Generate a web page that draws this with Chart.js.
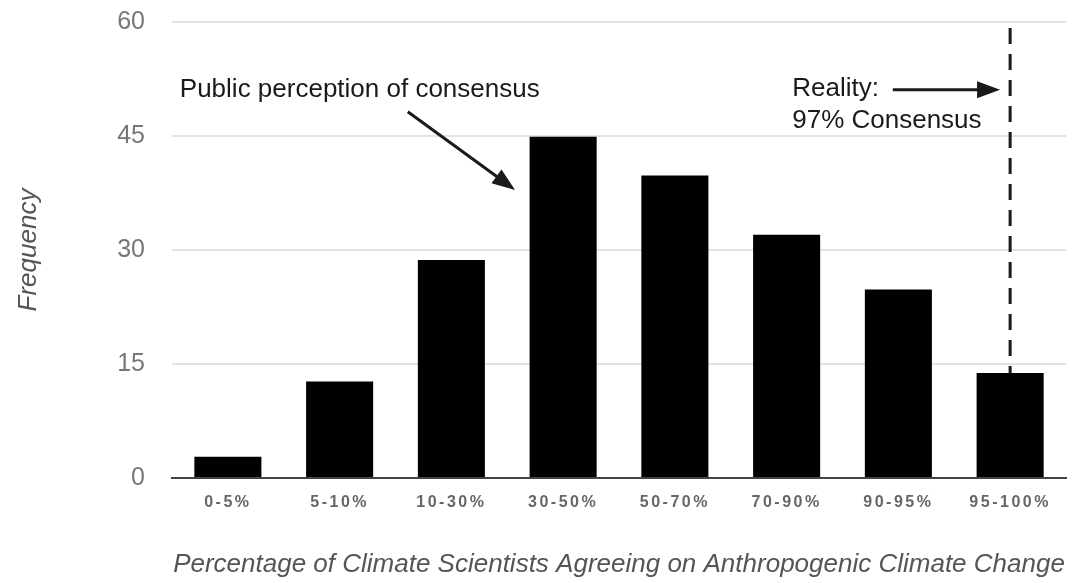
<!DOCTYPE html>
<html>
<head>
<meta charset="utf-8">
<script src="https://cdn.jsdelivr.net/npm/chart.js@4/dist/chart.umd.min.js"></script>
<style>
  html, body { margin: 0; padding: 0; background: #ffffff; }
  #wrap { width: 1072px; height: 583px; }
</style>
</head>
<body>
<div id="wrap"><canvas id="c" width="1072" height="583"></canvas></div>
<script>
// ---- Data ----
const categories = ['0-5%', '5-10%', '10-30%', '30-50%', '50-70%', '70-90%', '90-95%', '95-100%'];
const frequency = [2.8, 12.7, 28.7, 44.9, 39.8, 32, 24.8, 13.8];
const yTicks = [0, 15, 30, 45, 60];
const xTitle = 'Percentage of Climate Scientists Agreeing on Anthropogenic Climate Change';
const yTitle = 'Frequency';

// Annotations in data units (x = category index, y = frequency value)
const perceptionLabel = { text: 'Public perception of consensus', x: -0.43, y: 51.1 };
const perceptionArrow = { from: [1.61, 48.2], to: [2.57, 37.9] };
const realityLabel = { lines: ['Reality:', '97% Consensus'], x: 5.05, y: [51.2, 47.0] };
const realityArrow = { from: [5.95, 51.07], to: [6.91, 51.07] };
const realityLine = { x: 7, top: 59.2 };

const FONT = '"Liberation Sans", Arial, Helvetica, sans-serif';

function arrow(ctx, x1, y1, x2, y2) {
  const ang = Math.atan2(y2 - y1, x2 - x1);
  const headLen = 23, headW = 8.5;
  const bx = x2 - headLen * Math.cos(ang), by = y2 - headLen * Math.sin(ang);
  ctx.beginPath();
  ctx.moveTo(x1, y1);
  ctx.lineTo(bx + 2 * Math.cos(ang), by + 2 * Math.sin(ang));
  ctx.stroke();
  ctx.beginPath();
  ctx.moveTo(x2, y2);
  ctx.lineTo(bx + headW * Math.sin(ang), by - headW * Math.cos(ang));
  ctx.lineTo(bx - headW * Math.sin(ang), by + headW * Math.cos(ang));
  ctx.closePath();
  ctx.fill();
}

const annotationPlugin = {
  id: 'annotations',
  afterDatasetsDraw(chart) {
    // x tick labels (drawn in a later layer) are letter-spaced
    chart.ctx.letterSpacing = '2.5px';
  },
  afterDraw(chart) {
    const ctx = chart.ctx;
    ctx.letterSpacing = '0px';
    const xs = chart.scales.x, ys = chart.scales.y;
    ctx.save();
    ctx.fillStyle = '#1a1a1a';
    ctx.strokeStyle = '#1a1a1a';
    ctx.font = '26px ' + FONT;
    ctx.textBaseline = 'middle';
    ctx.textAlign = 'left';
    ctx.fillText(perceptionLabel.text, xs.getPixelForValue(perceptionLabel.x), ys.getPixelForValue(perceptionLabel.y));
    realityLabel.lines.forEach((t, i) => {
      ctx.fillText(t, xs.getPixelForValue(realityLabel.x), ys.getPixelForValue(realityLabel.y[i]));
    });
    ctx.lineWidth = 3;
    ctx.lineCap = 'butt';
    arrow(ctx, xs.getPixelForValue(perceptionArrow.from[0]), ys.getPixelForValue(perceptionArrow.from[1]),
               xs.getPixelForValue(perceptionArrow.to[0]), ys.getPixelForValue(perceptionArrow.to[1]));
    arrow(ctx, xs.getPixelForValue(realityArrow.from[0]), ys.getPixelForValue(realityArrow.from[1]),
               xs.getPixelForValue(realityArrow.to[0]), ys.getPixelForValue(realityArrow.to[1]));
    // dashed reality line
    const lx = xs.getPixelForValue(realityLine.x);
    ctx.setLineDash([16, 10]);
    ctx.beginPath();
    ctx.moveTo(lx, ys.getPixelForValue(realityLine.top));
    ctx.lineTo(lx, ys.getPixelForValue(frequency[realityLine.x]));
    ctx.stroke();
    ctx.restore();
  }
};

new Chart(document.getElementById('c'), {
  type: 'bar',
  data: {
    labels: categories,
    datasets: [{
      data: frequency,
      backgroundColor: '#000000',
      borderWidth: 0,
      barPercentage: 0.6,
      categoryPercentage: 1.0
    }]
  },
  options: {
    responsive: false,
    animation: false,
    devicePixelRatio: 1,
    layout: { padding: { top: 22, right: 6, bottom: 0, left: 0 } },
    plugins: { legend: { display: false }, tooltip: { enabled: false } },
    scales: {
      x: {
        offset: true,
        grid: { display: false, drawTicks: false },
        border: { display: true, color: '#444444', width: 2 },
        ticks: {
          z: 1,
          color: '#666666',
          font: { family: FONT, size: 16, weight: 'bold' },
          padding: 15,
          maxRotation: 0,
          autoSkip: false
        },
        title: {
          display: true,
          text: xTitle,
          color: '#555555',
          font: { family: FONT, size: 26, style: 'italic' },
          padding: { top: 0, bottom: 3 }
        },
        afterFit(scale) { scale.height = 105; scale.paddingLeft = 0; scale.paddingRight = 0; }
      },
      y: {
        min: 0,
        max: 60,
        afterBuildTicks(scale) { scale.ticks = yTicks.map(v => ({ value: v })); },
        grid: {
          drawTicks: false,
          lineWidth: 2,
          color: (c) => (c.tick && c.tick.value === 0 ? '#444444' : '#e2e2e2')
        },
        border: { display: false },
        ticks: {
          color: '#777777',
          font: { family: FONT, size: 25 },
          padding: 27
        },
        title: {
          display: true,
          text: yTitle,
          color: '#555555',
          font: { family: FONT, size: 26, style: 'italic' },
          padding: { top: 13, bottom: 0 }
        },
        afterFit(scale) { scale.width = 172; scale.paddingTop = 0; scale.paddingBottom = 0; }
      }
    }
  },
  plugins: [annotationPlugin]
});
</script>
</body>
</html>
